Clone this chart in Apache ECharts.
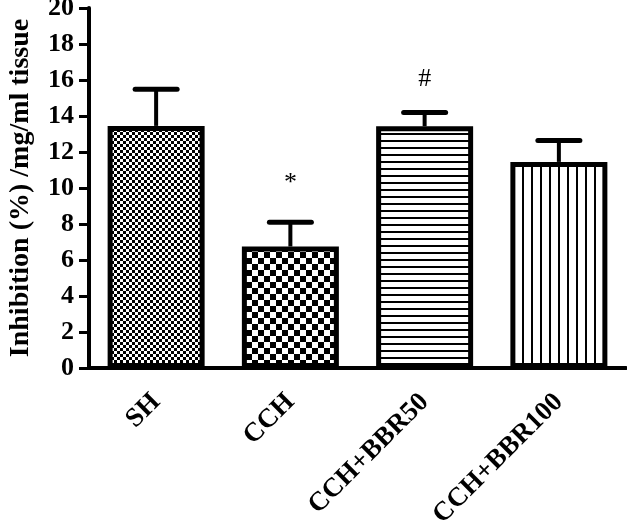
<!DOCTYPE html>
<html>
<head>
<meta charset="utf-8">
<script src="https://cdn.jsdelivr.net/npm/echarts@6/dist/echarts.min.js"></script>
<style>html,body{margin:0;padding:0;background:#fff}#c{width:627px;height:525px}</style>
</head>
<body>
<div id="c"></div>
<script>
var categories = ['SH', 'CCH', 'CCH+BBR50', 'CCH+BBR100'];
var means = [13.45, 6.75, 13.43, 11.45];
var errors = [2.04, 1.35, 0.77, 1.19];
var marks = ['', '*', '#', ''];
var yTicks = { min: 0, max: 20, interval: 2 };
var yName = 'Inhibition (%) /mg/ml tissue';

function makePattern(kind) {
  var c = document.createElement('canvas');
  var ctx;
  if (kind === 'fine') {
    var s = 3;
    c.width = s * 2; c.height = s * 2; ctx = c.getContext('2d');
    ctx.fillStyle = '#fff'; ctx.fillRect(0, 0, c.width, c.height);
    ctx.fillStyle = '#000'; ctx.fillRect(0, 0, s, s); ctx.fillRect(s, s, s, s);
  } else if (kind === 'coarse') {
    var s2 = 6;
    c.width = s2 * 2; c.height = s2 * 2; ctx = c.getContext('2d');
    ctx.fillStyle = '#fff'; ctx.fillRect(0, 0, c.width, c.height);
    ctx.fillStyle = '#000'; ctx.fillRect(0, 0, s2, s2); ctx.fillRect(s2, s2, s2, s2);
  } else if (kind === 'hlines') {
    c.width = 8; c.height = 7; ctx = c.getContext('2d');
    ctx.fillStyle = '#fff'; ctx.fillRect(0, 0, c.width, c.height);
    ctx.fillStyle = '#000'; ctx.fillRect(0, 0, c.width, 2);
  } else {
    c.width = 9; c.height = 8; ctx = c.getContext('2d');
    ctx.fillStyle = '#fff'; ctx.fillRect(0, 0, c.width, c.height);
    ctx.fillStyle = '#000'; ctx.fillRect(0, 0, 2, c.height);
  }
  return { image: c, repeat: 'repeat' };
}
var patterns = [makePattern('fine'), makePattern('coarse'), makePattern('hlines'), makePattern('vlines')];
var markGap = { '*': 26, '#': 20 };

var font = '"Liberation Serif", "Times New Roman", serif';
var chart = echarts.init(document.getElementById('c'), null, { renderer: 'canvas' });

var barData = means.map(function (v, i) {
  return { value: v, itemStyle: { color: patterns[i] } };
});
var errData = means.map(function (v, i) { return [i, v, v + errors[i], marks[i]]; });

chart.setOption({
  animation: false,
  backgroundColor: '#fff',
  grid: { left: 89, right: 1, top: 8, bottom: 157, containLabel: false, outerBoundsMode: 'none' },
  xAxis: {
    type: 'category',
    data: categories,
    axisLine: { lineStyle: { color: '#000', width: 4 } },
    axisTick: { alignWithLabel: true, length: 9, lineStyle: { color: '#000', width: 3 } },
    axisLabel: { rotate: 45, margin: 30, color: '#000', fontFamily: font, fontWeight: 'bold', fontSize: 27 }
  },
  yAxis: {
    type: 'value',
    min: yTicks.min, max: yTicks.max, interval: yTicks.interval,
    name: yName,
    nameLocation: 'middle',
    nameGap: 54,
    nameTextStyle: { color: '#000', fontFamily: font, fontWeight: 'bold', fontSize: 28 },
    axisLine: { show: true, lineStyle: { color: '#000', width: 4 } },
    axisTick: { show: true, length: 10, lineStyle: { color: '#000', width: 3 } },
    axisLabel: { margin: 15, color: '#000', fontFamily: font, fontWeight: 'bold', fontSize: 26 },
    splitLine: { show: false }
  },
  series: [
    {
      type: 'bar',
      data: barData,
      barWidth: 97,
      itemStyle: { borderColor: '#000', borderWidth: 5 },
      z: 2
    },
    {
      type: 'custom',
      data: errData,
      z: 3,
      renderItem: function (params, api) {
        var x = api.coord([api.value(0), api.value(1)]);
        var top = api.coord([api.value(0), api.value(2)]);
        var mark = marks[params.dataIndex];
        var children = [
          { type: 'line', shape: { x1: x[0], y1: x[1], x2: x[0], y2: top[1] }, style: { stroke: '#000', lineWidth: 4 } },
          { type: 'line', shape: { x1: x[0] - 21, y1: top[1], x2: x[0] + 21, y2: top[1] }, style: { stroke: '#000', lineWidth: 5, lineCap: 'round' } }
        ];
        if (mark) {
          children.push({
            type: 'text',
            style: { text: mark, x: x[0], y: top[1] - markGap[mark], align: 'center', verticalAlign: 'bottom', fill: '#000', font: '26px ' + font }
          });
        }
        return { type: 'group', children: children };
      }
    }
  ]
});
</script>
</body>
</html>
